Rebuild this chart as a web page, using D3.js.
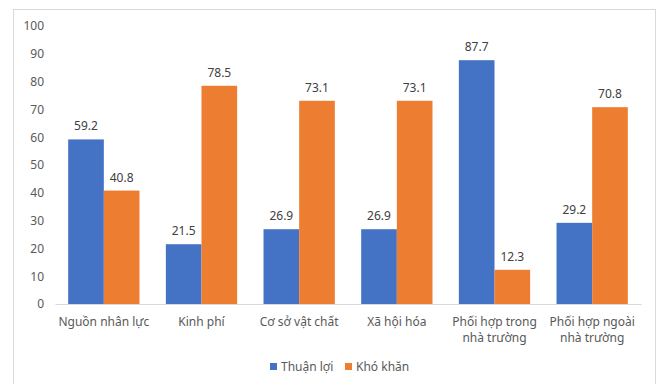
<!DOCTYPE html>
<html>
<head>
<meta charset="utf-8">
<script src="https://cdn.jsdelivr.net/npm/d3@7"></script>
<style>
  body { margin: 0; background: #fff; }
  svg { font-family: "Noto Sans", "Open Sans", sans-serif; }
</style>
</head>
<body>
<svg id="chart" width="660" height="384"></svg>
<script>
const categories = [
  ['Nguồn nhân lực'],
  ['Kinh phí'],
  ['Cơ sở vật chất'],
  ['Xã hội hóa'],
  ['Phối hợp trong', 'nhà trường'],
  ['Phối hợp ngoài', 'nhà trường']
];
const seriesNames = ['Thuận lợi', 'Khó khăn'];
const thuanLoi = [59.2, 21.5, 26.9, 26.9, 87.7, 29.2];
const khoKhan = [40.8, 78.5, 73.1, 73.1, 12.3, 70.8];
const yTicks = [0, 10, 20, 30, 40, 50, 60, 70, 80, 90, 100];
const colors = ['#4472C4', '#ED7D31'];

const svg = d3.select('#chart');
const margin = { left: 55, right: 19, top: 26, bottom: 80 };
const width = 660, height = 384;

// chart border
svg.append('rect')
  .attr('x', 13.5).attr('y', 9.5)
  .attr('width', 642).attr('height', 380)
  .attr('fill', 'none').attr('stroke', '#d9d9d9');

const x = d3.scaleBand()
  .domain(d3.range(categories.length))
  .range([margin.left, width - margin.right])
  .paddingInner(0.27).paddingOuter(0.135);
const xs = d3.scaleBand().domain([0, 1]).range([0, x.bandwidth()]);
const y = d3.scaleLinear().domain([0, 100]).range([304, 26]);

// y axis labels
svg.append('g')
  .attr('transform', `translate(${margin.left},0)`)
  .call(d3.axisLeft(y).tickValues(yTicks).tickSize(0).tickPadding(11))
  .call(g => g.select('.domain').remove())
  .call(g => g.selectAll('text').attr('fill', '#595959').attr('font-size', 12)
    .attr('font-family', '"Noto Sans", sans-serif'));

const rows = categories.map((c, i) => [thuanLoi[i], khoKhan[i]]);

const groups = svg.append('g').selectAll('g')
  .data(rows)
  .join('g')
  .attr('transform', (d, i) => `translate(${x(i)},0)`);

groups.selectAll('rect')
  .data(d => d)
  .join('rect')
  .attr('x', (d, j) => xs(j))
  .attr('y', d => y(d))
  .attr('width', xs.bandwidth())
  .attr('height', d => y(0) - y(d))
  .attr('fill', (d, j) => colors[j]);

groups.selectAll('text')
  .data(d => d)
  .join('text')
  .attr('x', (d, j) => xs(j) + xs.bandwidth() / 2)
  .attr('y', d => y(d) - 9)
  .attr('text-anchor', 'middle')
  .attr('font-size', 12)
  .attr('fill', '#404040')
  .text(d => d.toFixed(1));

// x axis line
svg.append('g')
  .attr('transform', `translate(0,${y(0)})`)
  .call(d3.axisBottom(x).tickSize(0).tickFormat(''))
  .call(g => g.select('.domain').attr('stroke', '#d9d9d9').attr('stroke-width', 1.2));

// category labels
const cat = svg.append('g').selectAll('text')
  .data(categories)
  .join('text')
  .attr('x', (d, i) => x(i) + x.bandwidth() / 2)
  .attr('y', 326)
  .attr('text-anchor', 'middle')
  .attr('font-size', 12)
  .attr('fill', '#595959');
cat.selectAll('tspan')
  .data(d => d)
  .join('tspan')
  .attr('x', function () { return this.parentNode.getAttribute('x'); })
  .attr('dy', (d, k) => k === 0 ? 0 : 16)
  .text(d => d);

// legend
const legend = svg.append('g').attr('transform', 'translate(270,367)');
const items = legend.selectAll('g')
  .data(seriesNames)
  .join('g')
  .attr('transform', (d, i) => `translate(${i * 75},0)`);
items.append('rect')
  .attr('x', 0).attr('y', -4)
  .attr('width', 7).attr('height', 7)
  .attr('fill', (d, i) => colors[i]);
items.append('text')
  .attr('x', 11).attr('y', 4)
  .attr('font-size', 12)
  .attr('fill', '#595959')
  .text(d => d);
</script>
</body>
</html>
